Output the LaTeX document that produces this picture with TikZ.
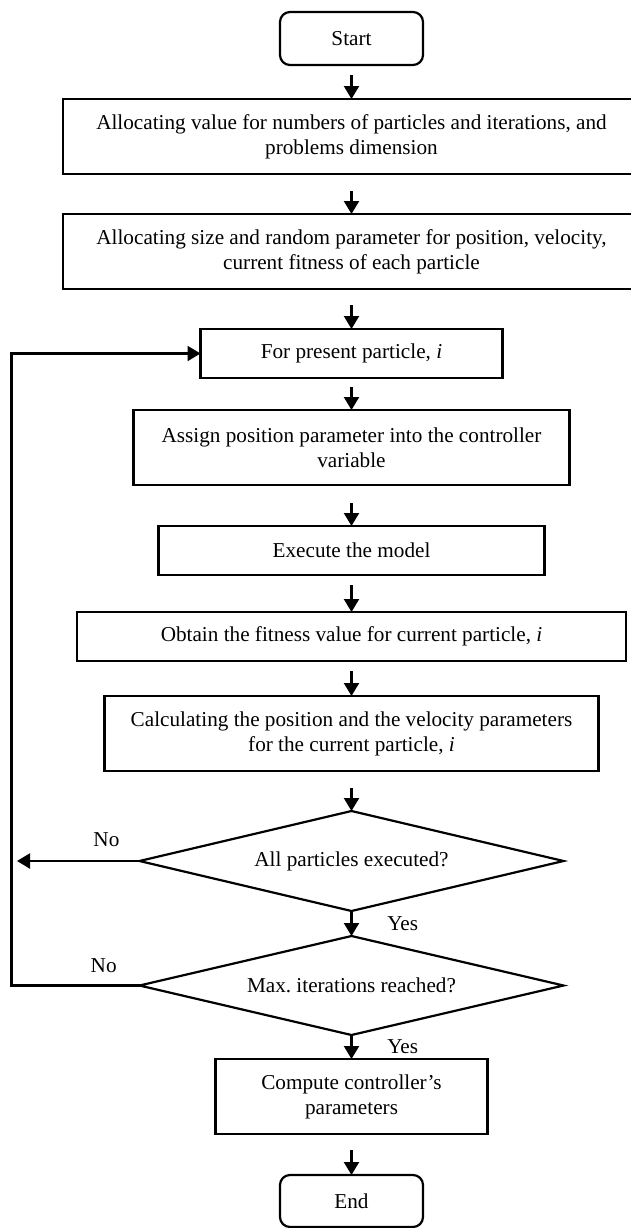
\documentclass[tikz,border=0pt]{standalone}
\usepackage{fontspec}
\setmainfont{Liberation Serif}
\usetikzlibrary{arrows.meta,positioning,calc,shapes.geometric}

\begin{document}
\begin{tikzpicture}[>={Triangle[length=6.5pt,width=7.5pt]},line width=1.1pt,
  every node/.style={font=\fontsize{10.6}{12.5}\selectfont},
  box/.style={draw,align=center,outer sep=0pt,inner sep=2pt,minimum height=24.5pt},
  tall/.style={box,minimum height=37.5pt},
  term/.style={box,rounded corners=5pt,minimum width=71.5pt,minimum height=26.5pt},
  dec/.style={draw,diamond,aspect=4.24,inner sep=0pt,outer sep=0pt,minimum width=212pt,minimum height=50pt}]
\useasboundingbox (0,0) rectangle (315.5pt,-614pt);
\node[term] (start) at (175.75pt,-19.25pt) {Start};
\node[tall,minimum width=288.5pt,below=17pt of start] (alloc) {Allocating value for numbers of particles and iterations, and\\problems dimension};
\node[tall,minimum width=288.5pt,below=20pt of alloc] (size) {Allocating size and random parameter for position, velocity,\\current fitness of each particle};
\node[box,minimum width=151pt,below=20pt of size] (part) {For present particle, \textit{i}};
\node[tall,minimum width=218pt,below=16pt of part] (assign) {Assign position parameter into the controller\\variable};
\node[box,minimum width=193pt,below=20.5pt of assign] (exec) {Execute the model};
\node[box,minimum width=274.5pt,below=18.5pt of exec] (fit) {Obtain the fitness value for current particle, \textit{i}};
\node[tall,minimum width=247pt,below=17.5pt of fit] (vel) {Calculating the position and the velocity parameters\\for the current particle, \textit{i}};
\node[dec,below=20pt of vel] (allp) {All particles executed?};
\node[dec,minimum height=49.5pt,below=12.5pt of allp] (maxit) {Max.\ iterations reached?};
\node[tall,minimum width=136pt,below=12pt of maxit] (comp) {Compute controller’s\\parameters};
\node[term,minimum height=26pt,below=20.5pt of comp] (end) {End};
% main flow
\draw[->,shorten <=5pt] (start.south) -- (alloc.north);
\draw[->,shorten <=8.5pt] (alloc.south) -- (size.north);
\draw[->,shorten <=8pt] (size.south) -- (part.north);
\draw[->,shorten <=4.5pt] (part.south) -- (assign.north);
\draw[->,shorten <=9pt] (assign.south) -- (exec.north);
\draw[->,shorten <=5pt] (exec.south) -- (fit.north);
\draw[->,shorten <=5pt] (fit.south) -- (vel.north);
\draw[->,shorten <=8.5pt] (vel.south) -- (allp.north);
\draw[->] (allp.south) -- node[right=14pt] {Yes} (maxit.north);
\draw[->] (maxit.south) -- node[right=14pt] {Yes} (comp.north);
\draw[->,shorten <=8pt] (comp.south) -- (end.north);
% loops back
\coordinate (nx) at ($(allp.west)+(-61.25pt,0)$);
\draw[->] (allp.west) -- node[pos=0.27,above=3.5pt] {No} (nx);
\draw[->] (maxit.west) -- node[pos=0.28,above=2.5pt] {No} ++(-64pt,0) |- (part.west);
\end{tikzpicture}
\end{document}
